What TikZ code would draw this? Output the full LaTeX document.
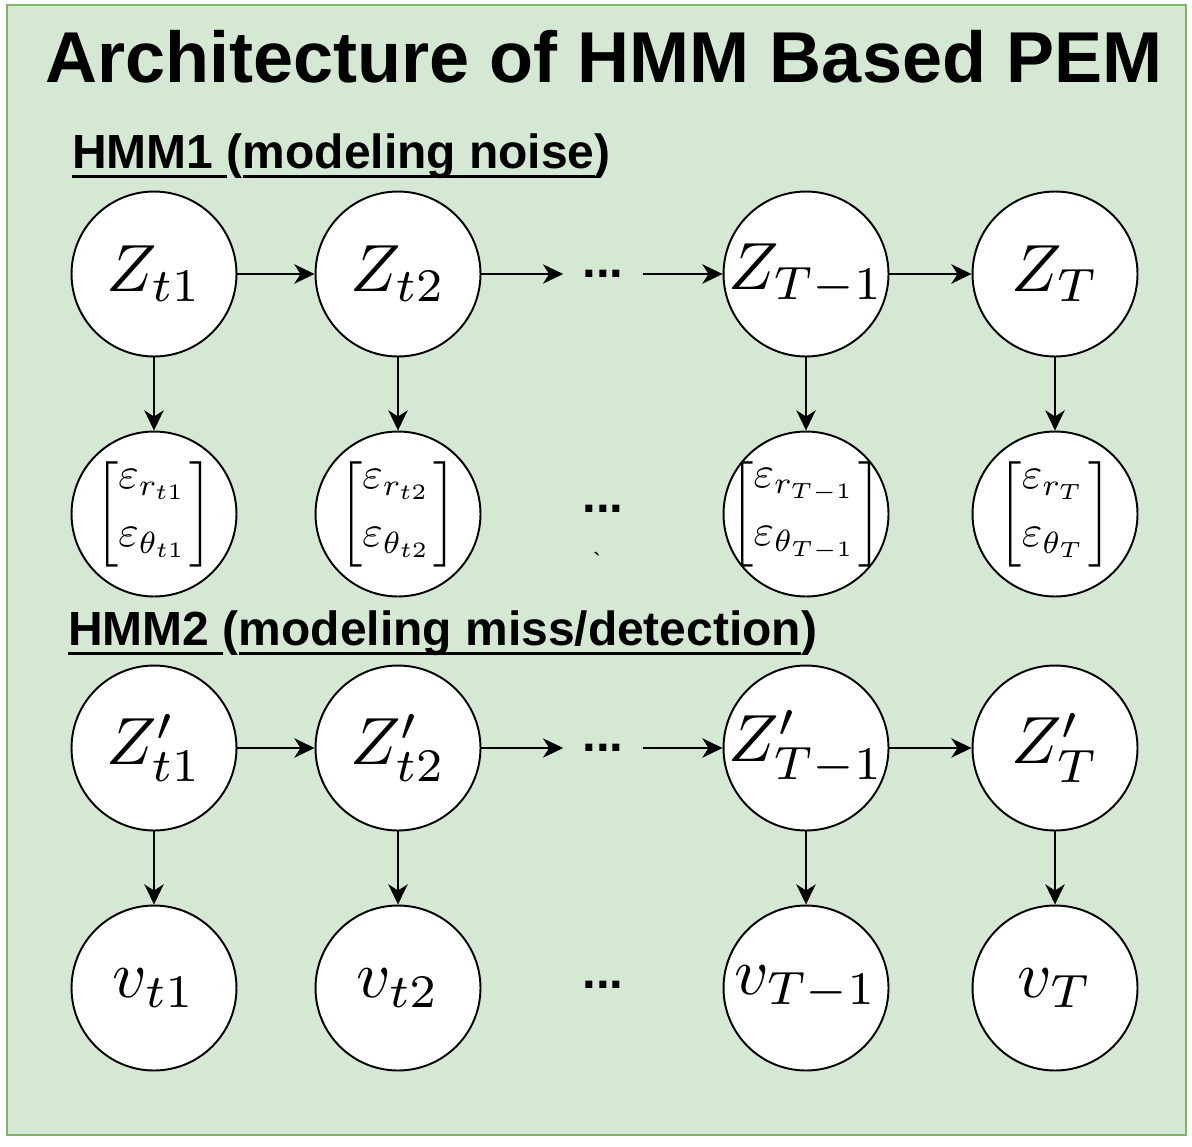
\documentclass[tikz,border=0pt]{standalone}
\usepackage{amsmath}
\usepackage{graphicx}
\usepackage{fontspec}
\setsansfont{Liberation Sans}
\usetikzlibrary{arrows.meta}
\definecolor{panelfill}{HTML}{D5E8D4}
\definecolor{paneldraw}{HTML}{82B366}
\newcommand{\ulin}[1]{\setbox0\hbox{#1}\rlap{\rule[-0.2em]{\wd0}{0.06em}}\box0}
\newcommand{\nodemath}[2][3.8]{\makebox[0pt]{\scalebox{#1}{$#2$}}}
\newcommand{\epsvec}[2]{\nodemath[2.5]{\left[\vcenter{\baselineskip=13.2pt\lineskiplimit=-100pt\hbox{$\varepsilon_{#1}$}\hbox{$\varepsilon_{#2}$}}\mkern1mu\right]}}

\begin{document}
\begin{tikzpicture}[x=0.02cm,y=-0.02cm,>={Stealth[length=11.5pt,width=11pt,inset=3.5pt]}]
\tikzset{
    st/.style={%
        draw=black, line width=1.1pt,
        circle, fill=white,
        minimum size=3.3cm,
        inner sep=0pt
        },
    dotsn/.style={%
        font=\sffamily\bfseries\fontsize{28}{28}\selectfont,
        inner xsep=10.8pt, inner ysep=0pt
        },
    hd/.style={%
        font=\sffamily\bfseries\fontsize{27.3}{28}\selectfont,
        anchor=base west, inner sep=0pt
        },
    link/.style={->, line width=1.1pt},
}
\useasboundingbox (0,0) rectangle (1192,1146);
%%%PANEL
\draw[draw=paneldraw, fill=panelfill, line width=1.1pt] (7,5) rectangle (1186,1135);
\node[hd, anchor=base, font=\sffamily\bfseries\fontsize{41}{41}\selectfont] (title) at (604,82) {Architecture of HMM Based PEM};
%%%HMM1
\node[hd] (h1) at (72,168) {\ulin{HMM1 }(\ulin{modeling noise})};
\node[st] (z1) at (154,274) {\nodemath{Z_{t1}}};
\node[st] (z2) at (398,274) {\nodemath{Z_{t2}}};
\node[dotsn] (d1) at (603,274) {...};
\node[st] (z3) at (806,274) {\nodemath{Z_{T-1}}};
\node[st] (z4) at (1055,274) {\nodemath{Z_T}};
\node[st] (e1) at (154,514) {\epsvec{r_{t1}}{\theta_{t1}}};
\node[st] (e2) at (398,514) {\epsvec{r_{t2}}{\theta_{t2}}};
\node[dotsn] (d2) at (603,509) {...};
\node[font=\sffamily\fontsize{14}{14}\selectfont, inner sep=0pt] (grave) at (597,561) {\textasciigrave};
\node[st] (e3) at (806,514) {\epsvec{r_{T-1}}{\theta_{T-1}}};
\node[st] (e4) at (1055,514) {\epsvec{r_T}{\theta_T}};
%%%HMM2
\node[hd] (h2) at (68,645) {\ulin{HMM2 }(\ulin{modeling miss/detection})};
\node[st] (y1) at (154,748) {\nodemath{Z'_{t1}}};
\node[st] (y2) at (398,748) {\nodemath{Z'_{t2}}};
\node[dotsn] (d3) at (603,748) {...};
\node[st] (y3) at (806,748) {\nodemath{Z'_{T-1}}};
\node[st] (y4) at (1055,748) {\nodemath{Z'_T}};
\node[st] (v1) at (154,988) {\nodemath{v_{t1}}};
\node[st] (v2) at (398,988) {\nodemath{v_{t2}}};
\node[dotsn] (d4) at (603,985) {...};
\node[st] (v3) at (806,988) {\nodemath{v_{T-1}}};
\node[st] (v4) at (1055,988) {\nodemath{v_T}};
%%%TRANSITIONS
\draw[link] (z1) -- (z2);
\draw[link] (z2) -- (d1);
\draw[link] (d1) -- (z3);
\draw[link] (z3) -- (z4);
\draw[link] (y1) -- (y2);
\draw[link] (y2) -- (d3);
\draw[link] (d3) -- (y3);
\draw[link] (y3) -- (y4);
%%%EMISSIONS
\foreach \i in {1,2,3,4} {
  \draw[link] (z\i) -- (e\i);
  \draw[link] (y\i) -- (v\i);
}
\end{tikzpicture}
\end{document}
